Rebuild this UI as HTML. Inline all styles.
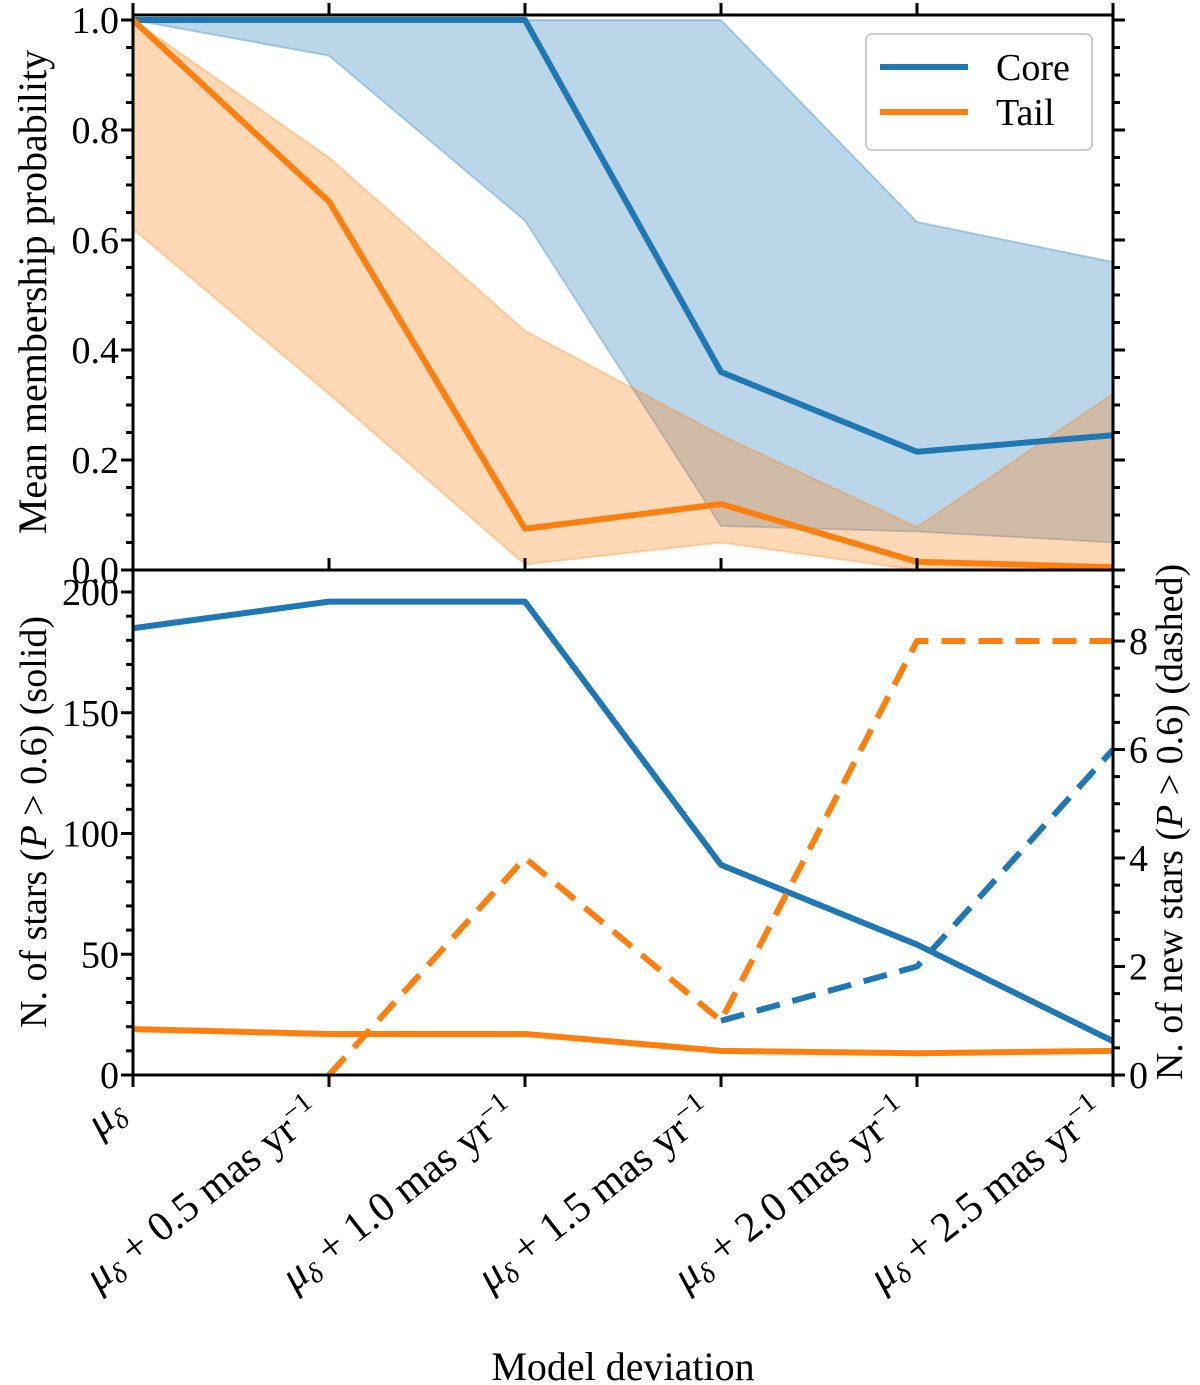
<!DOCTYPE html>
<html><head><meta charset="utf-8"><style>
html,body{margin:0;padding:0;background:#fff}
svg{display:block;font-family:"Liberation Serif",serif}
</style></head><body>
<svg id="chart" width="1200" height="1385" viewBox="0 0 1200 1385" xmlns="http://www.w3.org/2000/svg"></svg>
<script>
const categories = ["0","0.5","1.0","1.5","2.0","2.5"];
const coreMean = [1, 1, 1, 0.36, 0.215, 0.245];
const coreUpper = [1, 1, 1, 1, 0.633, 0.56];
const coreLower = [1, 0.935, 0.635, 0.08, 0.07, 0.05];
const tailMean = [1, 0.67, 0.075, 0.12, 0.015, 0.005];
const tailUpper = [1, 0.75, 0.435, 0.245, 0.078, 0.32];
const tailLower = [0.62, 0.32, 0.01, 0.05, 0.0, 0.0];
const coreCount = [185, 196, 196, 87, 54, 14];
const tailCount = [19, 17, 17, 10, 9, 10];
const coreNew = [null, null, null, 1, 2, 6];
const tailNew = [null, 0, 4, 1, 8, 8];
const topTicks = ["0.0","0.2","0.4","0.6","0.8","1.0"];
const leftTicks = ["0","50","100","150","200"];
const rightTicks = ["0","2","4","6","8"];

const NS = "http://www.w3.org/2000/svg";
const svg = document.getElementById("chart");
const X0 = 133, X1 = 1113, TOP0 = 15, MID = 570, BOT = 1075;
const BLUE = "#1f77b4", ORANGE = "#ff7f0e";
const FS = 38;
const x = i => X0 + i * (X1 - X0) / (categories.length - 1);
const yTop = v => 570 - v * 550;
const yL = v => 1075 - v * 2.415;
const yR = v => 1075 - v * 54.25;

function el(tag, attrs, parent) {
  const e = document.createElementNS(NS, tag);
  for (const k in attrs) e.setAttribute(k, attrs[k]);
  (parent || svg).appendChild(e);
  return e;
}
function pts(arr, yf) {
  const p = [];
  arr.forEach((v, i) => { if (v !== null) p.push(x(i) + "," + yf(v)); });
  return p.join(" ");
}
function band(up, lo, color, name) {
  const p = up.map((v, i) => x(i) + "," + yTop(v));
  for (let i = lo.length - 1; i >= 0; i--) p.push(x(i) + "," + yTop(lo[i]));
  const g = el("polygon", {points: p.join(" "), fill: color, "fill-opacity": 0.3, stroke: color, "stroke-opacity": 0.3, "stroke-width": 2});
  
  
}
function line(arr, yf, color, name, dash) {
  const a = {points: pts(arr, yf), fill: "none", stroke: color, "stroke-width": 6, "stroke-linejoin": "round"};
  if (dash) a["stroke-dasharray"] = "24,13";
  const l = el("polyline", a);
  
  
}
function text(s, attrs, name) {
  const t = el("text", attrs);
  t.textContent = s;
  
  
  return t;
}

band(coreUpper, coreLower, BLUE, "core-band");
band(tailUpper, tailLower, ORANGE, "tail-band");
line(coreMean, yTop, BLUE, "core-mean-line");
line(tailMean, yTop, ORANGE, "tail-mean-line");
line(coreCount, yL, BLUE, "core-count-line");
line(tailCount, yL, ORANGE, "tail-count-line");
line(coreNew, yR, BLUE, "core-new-dashed", true);
line(tailNew, yR, ORANGE, "tail-new-dashed", true);

const f1 = el("rect", {x: X0, y: TOP0, width: X1 - X0, height: MID - TOP0, fill: "none", stroke: "#000", "stroke-width": 3});
 
const f2 = el("rect", {x: X0, y: MID, width: X1 - X0, height: BOT - MID, fill: "none", stroke: "#000", "stroke-width": 3});
 

function tick(x1, y1, x2, y2) { el("line", {x1, y1, x2, y2, stroke: "#000", "stroke-width": 3}); }
categories.forEach((c, i) => {
  tick(x(i), TOP0, x(i), TOP0 - 12);
  tick(x(i), MID, x(i), MID - 12);
  tick(x(i), BOT, x(i), BOT + 12);
});
for (let k = 0; k <= 20; k++) {
  const v = k * 0.05, yy = yTop(v), L = k % 4 === 0 ? 12 : 7;
  tick(X0, yy, X0 - L, yy); tick(X1, yy, X1 + L, yy);
}
topTicks.forEach(s => text(s, {x: X0 - 14, y: yTop(parseFloat(s)) + 13, "font-size": FS, "text-anchor": "end"}, "y-tick-label"));
for (let v = 0; v <= 210; v += 10) {
  const yy = yL(v); if (yy < MID) continue;
  tick(X0, yy, X0 - (v % 50 === 0 ? 12 : 7), yy);
}
leftTicks.forEach(s => text(s, {x: X0 - 14, y: yL(+s) + 13, "font-size": FS, "text-anchor": "end"}, "left-tick-label"));
for (let v = 0; v <= 9; v += 0.5) {
  const yy = yR(v); if (yy < MID) continue;
  tick(X1, yy, X1 + (v % 2 === 0 ? 12 : 7), yy);
}
rightTicks.forEach(s => text(s, {x: X1 + 16, y: yR(+s) + 13, "font-size": FS, "text-anchor": "start"}, "right-tick-label"));

categories.forEach((c, i) => {
  const t = el("text", {transform: `translate(${x(i) - 6},${BOT + 42}) rotate(-38)`, "font-size": 42, "text-anchor": "end"});
  
  
  if (i === 0) {
    t.innerHTML = '<tspan font-style="italic">μ</tspan><tspan font-style="italic" font-size="28" dy="7">δ</tspan>';
  } else {
    t.innerHTML = '<tspan font-style="italic">μ</tspan><tspan font-style="italic" font-size="28" dy="7">δ</tspan><tspan dy="-7"> + ' + c + ' mas yr</tspan><tspan font-size="28" dy="-15">−1</tspan>';
  }
});

text("Mean membership probability", {transform: "translate(46,292) rotate(-90)", "font-size": 40, "text-anchor": "middle"}, "top-y-axis-title");
const lt = el("text", {transform: "translate(46,822) rotate(-90)", "font-size": 38, "text-anchor": "middle"});
lt.innerHTML = 'N. of stars (<tspan font-style="italic">P</tspan> &gt; 0.6) (solid)';
 
const rt = el("text", {transform: "translate(1182,822) rotate(-90)", "font-size": 38, "text-anchor": "middle"});
rt.innerHTML = 'N. of new stars (<tspan font-style="italic">P</tspan> &gt; 0.6) (dashed)';
 
text("Model deviation", {x: 623, y: 1380, "font-size": 40, "text-anchor": "middle"}, "x-axis-title");

const lg = el("g", {});
 
el("rect", {x: 866, y: 34, width: 226, height: 116, rx: 6, fill: "#fff", "fill-opacity": 0.85, stroke: "#ccc", "stroke-width": 2}, lg);
el("line", {x1: 880, y1: 67, x2: 968, y2: 67, stroke: BLUE, "stroke-width": 6}, lg);
el("line", {x1: 880, y1: 112, x2: 968, y2: 112, stroke: ORANGE, "stroke-width": 6}, lg);
const l1 = el("text", {x: 996, y: 80, "font-size": 38}, lg); l1.textContent = "Core";
 
const l2 = el("text", {x: 996, y: 125, "font-size": 38}, lg); l2.textContent = "Tail";
 
</script>
</body></html>
